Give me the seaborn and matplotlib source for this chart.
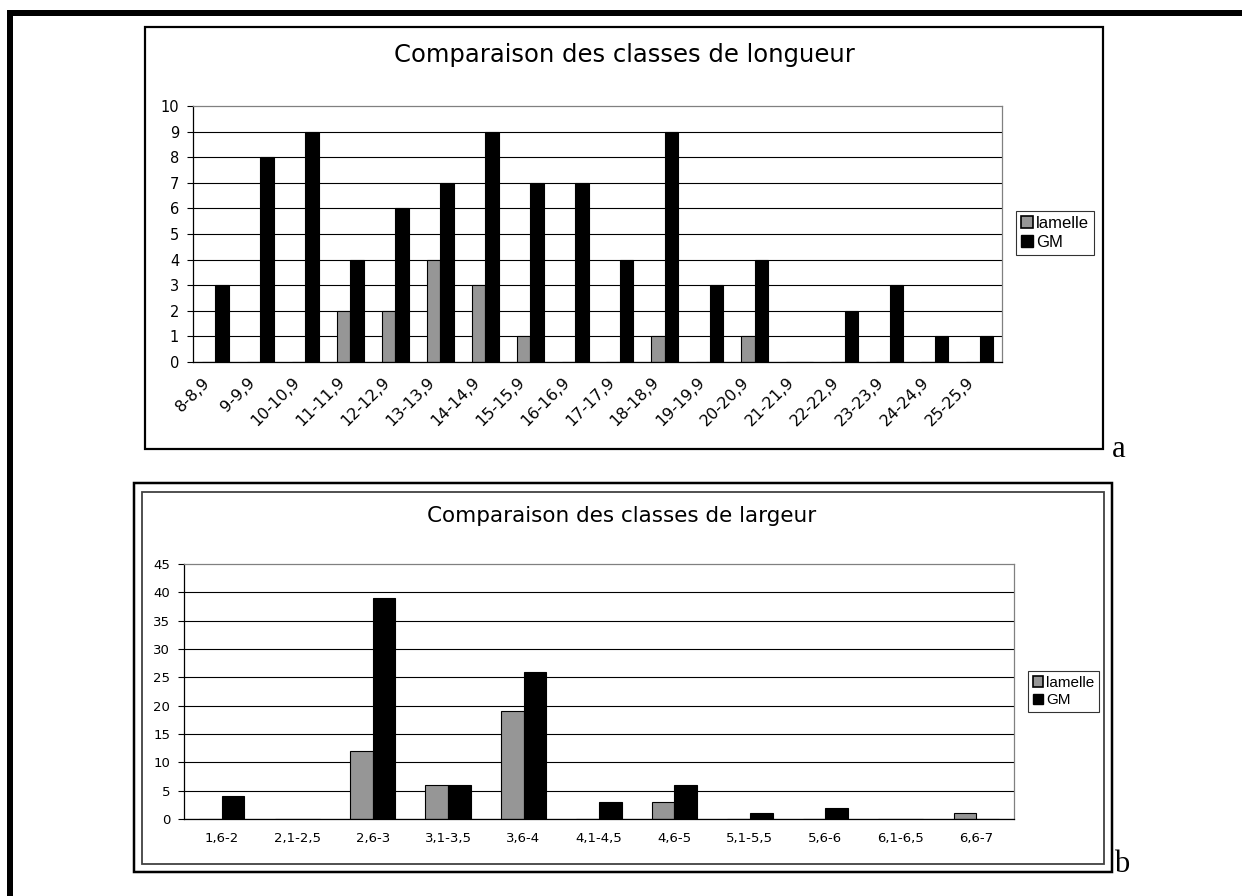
import matplotlib
matplotlib.use('Agg')
import matplotlib.pyplot as plt
import seaborn as sns
import pandas as pd
from matplotlib.patches import Rectangle, Patch
from matplotlib.lines import Line2D
from matplotlib.transforms import ScaledTranslation

# Données
classes_longueur = ['8-8,9', '9-9,9', '10-10,9', '11-11,9', '12-12,9', '13-13,9',
                    '14-14,9', '15-15,9', '16-16,9', '17-17,9', '18-18,9', '19-19,9',
                    '20-20,9', '21-21,9', '22-22,9', '23-23,9', '24-24,9', '25-25,9']
lamelle_longueur = [0, 0, 0, 2, 2, 4, 3, 1, 0, 0, 1, 0, 1, 0, 0, 0, 0, 0]
gm_longueur = [3, 8, 9, 4, 6, 7, 9, 7, 7, 4, 9, 3, 4, 0, 2, 3, 1, 1]

classes_largeur = ['1,6-2', '2,1-2,5', '2,6-3', '3,1-3,5', '3,6-4', '4,1-4,5',
                   '4,6-5', '5,1-5,5', '5,6-6', '6,1-6,5', '6,6-7']
lamelle_largeur = [0, 0, 12, 6, 19, 0, 3, 0, 0, 0, 1]
gm_largeur = [4, 0, 39, 6, 26, 3, 6, 1, 2, 0, 0]

series = ['lamelle', 'GM']
couleurs = {'lamelle': '#969696', 'GM': '#000000'}

W, H = 1242, 896

sns.set_style('white')
plt.rcParams['font.family'] = ['DejaVu Sans']
plt.rcParams['text.color'] = 'black'
plt.rcParams['xtick.color'] = 'black'
plt.rcParams['ytick.color'] = 'black'

fig = plt.figure(figsize=(W / 100, H / 100), dpi=100)


def px_axes(x0, y0, x1, y1):
    return fig.add_axes([x0 / W, 1 - y1 / H, (x1 - x0) / W, (y1 - y0) / H])


def px_rect(x0, y0, x1, y1, lw, color):
    fig.add_artist(Rectangle((x0 / W, 1 - y1 / H), (x1 - x0) / W, (y1 - y0) / H,
                             transform=fig.transFigure, fill=False,
                             lw=lw * 0.72, edgecolor=color))


def trace(ax, classes, lam, gm, ymax, ystep, fs_y, fs_x, rot, leg_xy, fs_leg):
    n = len(classes)
    df = pd.DataFrame({
        'classe': classes * 2,
        'serie': ['lamelle'] * n + ['GM'] * n,
        'n': lam + gm,
    })
    sns.barplot(data=df, x='classe', y='n', hue='serie', hue_order=series,
                palette=couleurs, saturation=1, width=0.6, edgecolor='black',
                linewidth=0.8, errorbar=None, legend=False, ax=ax)
    ax.set_xlim(-0.5, n - 0.5)
    ax.set_ylim(0, ymax)
    ax.set_yticks(range(0, ymax + 1, ystep))
    ax.set_xlabel('')
    ax.set_ylabel('')

    for s in ['left', 'bottom']:
        ax.spines[s].set_color('black')
        ax.spines[s].set_linewidth(0.9)
    for s in ['top', 'right']:
        ax.spines[s].set_color('#808080')
        ax.spines[s].set_linewidth(0.9)

    ax.set_axisbelow(True)
    ax.yaxis.grid(True, color='black', linewidth=0.8)
    ax.get_ygridlines()[-1].set_visible(False)

    # graduations entre les catégories, étiquettes au centre
    ax.set_xticks(range(n))
    ax.set_xticks([i - 0.5 for i in range(n + 1)], minor=True)
    ax.tick_params(axis='x', which='major', length=0, labelsize=fs_x, pad=13 if rot else 9)
    ax.tick_params(axis='x', which='minor', length=4, width=0.8, direction='out')
    ax.tick_params(axis='y', length=4, width=0.8, direction='out', labelsize=fs_y, pad=6)
    ax.tick_params(left=True, bottom=True)
    if rot:
        ax.set_xticks(range(n), classes, rotation=45, ha='right', va='center',
                      rotation_mode='anchor')
        decal = ScaledTranslation(-0.08, 0, fig.dpi_scale_trans)
        for lab in ax.get_xticklabels():
            lab.set_transform(lab.get_transform() + decal)

    handles = [Patch(facecolor=couleurs['lamelle'], edgecolor='black', lw=1.2, label='lamelle'),
               Patch(facecolor='black', edgecolor='black', label='GM')]
    leg = ax.legend(handles=handles, loc='upper left',
                    bbox_to_anchor=(leg_xy[0] / W, 1 - leg_xy[1] / H),
                    bbox_transform=fig.transFigure, frameon=True, fancybox=False,
                    edgecolor='black', prop={'family': 'Liberation Sans', 'size': fs_leg},
                    handlelength=0.7, handleheight=0.7, handletextpad=0.2,
                    borderpad=0.3, labelspacing=0.25, borderaxespad=0)
    leg.get_frame().set_linewidth(0.8)


# cadre de la page
fig.add_artist(Line2D([7 / W, 1], [1 - 13 / H] * 2, lw=6 * 0.72, color='black',
                      transform=fig.transFigure, solid_capstyle='butt'))
fig.add_artist(Line2D([10 / W] * 2, [1 - 10 / H, 0], lw=6 * 0.72, color='black',
                      transform=fig.transFigure, solid_capstyle='butt'))

# graphique a : longueur
px_rect(145, 27, 1103, 449, 2.2, 'black')
ax1 = px_axes(193, 106, 1002, 362)
trace(ax1, classes_longueur, lamelle_longueur, gm_longueur, 10, 1,
      10.5, 11.5, True, (1016, 211), 12)
fig.text(624 / W, 1 - 55 / H, 'Comparaison des classes de longueur',
         ha='center', va='center', fontsize=17.5)
fig.text(1112 / W, 1 - 457 / H, 'a', ha='left', va='baseline',
         fontsize=22, family='Liberation Serif')

# graphique b : largeur
px_rect(134, 483, 1112, 872, 2.5, 'black')
px_rect(142, 492, 1104, 864, 1.8, '#404040')
ax2 = px_axes(184, 564, 1014, 819)
trace(ax2, classes_largeur, lamelle_largeur, gm_largeur, 45, 5,
      9.5, 9.5, False, (1028, 671), 11)
fig.text(622 / W, 1 - 516 / H, 'Comparaison des classes de largeur',
         ha='center', va='center', fontsize=15.5)
fig.text(1114 / W, 1 - 872 / H, 'b', ha='left', va='baseline',
         fontsize=22, family='Liberation Serif')

fig.savefig('out.png', dpi=100, facecolor='white')
